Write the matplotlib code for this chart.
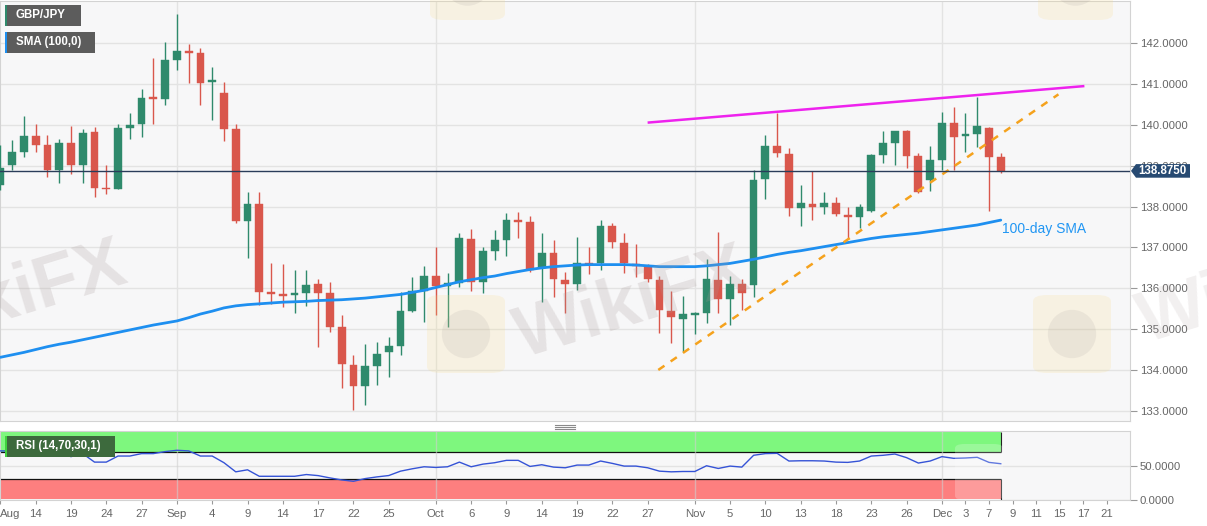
import matplotlib
matplotlib.use("Agg")
import matplotlib.pyplot as plt
from matplotlib.patches import Polygon, Rectangle, FancyBboxPatch, Ellipse
from matplotlib.lines import Line2D

plt.rcParams['font.family'] = ['Liberation Sans', 'DejaVu Sans']

# ---------------- data (GBP/JPY daily, 11 Aug - 8 Dec) ----------------
opens = [138.53, 139.02, 139.35, 139.73, 139.51, 138.90, 139.55, 139.02, 139.83, 138.46,
         138.44, 139.92, 140.02, 140.67, 140.64, 141.59, 141.81, 141.77, 141.05, 140.78,
         139.90, 137.65, 138.06, 135.89, 135.84, 135.84, 135.88, 136.10, 135.89, 135.04,
         134.12, 133.61, 134.10, 134.45, 134.59, 135.45, 135.93, 136.30, 136.06, 136.14,
         137.21, 136.16, 136.91, 137.18, 137.67, 137.63, 136.49, 136.86, 136.20, 136.10,
         136.62, 136.63, 137.53, 137.12, 136.59, 136.53, 136.20, 135.44, 135.24, 135.36,
         135.39, 136.20, 135.75, 136.10, 136.08, 138.67, 139.48, 139.30, 137.96, 138.06,
         138.00, 138.08, 137.79, 137.75, 137.90, 139.26, 139.57, 139.84, 139.25, 138.65,
         139.14, 140.04, 139.73, 139.78, 139.92, 139.22]
highs = [139.51, 139.63, 140.22, 140.02, 139.75, 139.65, 139.97, 139.89, 139.94, 139.02,
         140.02, 140.30, 140.87, 141.63, 142.04, 142.71, 141.98, 141.88, 141.43, 141.06,
         140.02, 138.37, 138.37, 136.61, 136.59, 136.45, 136.46, 136.22, 136.16, 135.34,
         134.36, 134.63, 134.69, 134.81, 135.92, 136.27, 136.55, 137.02, 136.38, 137.35,
         137.44, 137.00, 137.43, 137.84, 137.86, 137.77, 137.35, 137.18, 136.41, 137.25,
         137.02, 137.67, 137.59, 137.35, 137.08, 136.59, 136.30, 135.93, 135.81, 135.43,
         136.71, 137.39, 136.30, 136.22, 138.90, 139.75, 140.30, 139.44, 138.53, 138.88,
         138.37, 138.23, 138.00, 138.06, 139.29, 139.85, 139.86, 139.88, 139.31, 139.48,
         140.31, 140.45, 140.29, 140.69, 139.96, 139.31]
lows = [138.41, 138.90, 139.22, 139.35, 138.73, 138.59, 138.79, 138.57, 138.24, 138.31,
        138.43, 139.65, 139.70, 140.02, 140.49, 141.35, 141.02, 140.48, 140.12, 139.61,
        137.61, 136.73, 135.59, 135.61, 135.55, 135.40, 135.57, 134.57, 134.94, 133.56,
        133.03, 133.14, 133.63, 133.83, 134.36, 135.43, 135.18, 135.34, 135.06, 136.04,
        135.94, 135.89, 136.69, 136.79, 137.22, 136.41, 135.67, 135.79, 135.40, 135.96,
        136.35, 136.46, 136.98, 136.37, 136.28, 136.16, 134.90, 134.65, 134.43, 134.88,
        135.16, 135.39, 135.10, 135.47, 135.79, 138.19, 139.22, 137.77, 137.53, 137.67,
        137.81, 137.77, 137.20, 137.47, 137.88, 139.08, 139.02, 138.94, 138.34, 138.38,
        138.90, 138.90, 139.35, 139.47, 137.90, 138.82]
closes = [138.94, 139.35, 139.73, 139.51, 138.90, 139.55, 139.02, 139.81, 138.46, 138.43,
          139.92, 140.00, 140.67, 140.64, 141.59, 141.81, 141.78, 141.04, 141.09, 139.90,
          137.65, 138.06, 135.92, 135.86, 135.82, 135.89, 136.08, 135.89, 135.06, 134.14,
          133.61, 134.10, 134.38, 134.59, 135.45, 135.93, 136.30, 136.06, 136.14, 137.22,
          136.16, 136.91, 137.18, 137.67, 137.64, 136.46, 136.86, 136.22, 136.10, 136.63,
          136.59, 137.53, 137.14, 136.61, 136.55, 136.22, 135.47, 135.30, 135.36, 135.39,
          136.22, 135.75, 136.10, 135.89, 138.65, 139.48, 139.32, 137.96, 138.08, 138.00,
          138.10, 137.81, 137.75, 138.00, 139.26, 139.55, 139.84, 139.25, 138.37, 139.14,
          140.04, 139.70, 139.76, 139.97, 139.22, 138.875]
sma100 = [134.31, 134.37, 134.43, 134.50, 134.57, 134.63, 134.68, 134.74, 134.80, 134.86,
          134.92, 134.98, 135.04, 135.10, 135.15, 135.20, 135.28, 135.37, 135.44, 135.52,
          135.57, 135.60, 135.62, 135.64, 135.66, 135.67, 135.68, 135.70, 135.71, 135.72,
          135.74, 135.76, 135.79, 135.82, 135.85, 135.90, 135.95, 136.02, 136.09, 136.16,
          136.21, 136.26, 136.30, 136.36, 136.41, 136.46, 136.50, 136.53, 136.55, 136.57,
          136.58, 136.58, 136.58, 136.58, 136.57, 136.55, 136.53, 136.53, 136.53, 136.53,
          136.55, 136.58, 136.61, 136.66, 136.71, 136.77, 136.83, 136.88, 136.92, 136.97,
          137.02, 137.07, 137.12, 137.17, 137.22, 137.26, 137.29, 137.32, 137.35, 137.39,
          137.43, 137.47, 137.51, 137.55, 137.61, 137.67]
rsi = [72, 72, 73, 71, 67, 69.5, 63.5, 68, 55.4, 55.4,
       64.4, 64.4, 68, 68, 71, 72.9, 72, 64.4, 64.4, 54.5,
       41, 44, 34.4, 34.4, 34.4, 34.4, 37, 35.4, 32, 29,
       27, 31, 33.5, 35.5, 42, 45.5, 48.5, 47.5, 48.5, 55.4,
       48.5, 52.4, 54.5, 58, 58, 49, 51.5, 48, 47, 51,
       51, 57, 53.5, 49.5, 49.5, 47, 42, 41, 41.5, 41.5,
       50, 46, 49.5, 48, 65.5, 68, 68.4, 57, 57.4, 57.4,
       57, 55.4, 55, 57, 64.4, 65.5, 67.4, 62, 54, 57,
       63.5, 61, 61.5, 62.5, 55, 53]

tick_pos = [0, 3, 6, 9, 12, 15, 18, 21, 24, 27, 30, 33, 37, 40, 43, 46, 49, 52, 55,
            59, 62, 65, 68, 71, 74, 77, 80, 82, 84, 86, 88, 90, 92, 94]
tick_labels = ['Aug', '14', '19', '24', '27', 'Sep', '4', '9', '14', '17', '22', '25',
               'Oct', '6', '9', '14', '19', '22', '27', 'Nov', '5', '10', '13', '18',
               '23', '26', 'Dec', '3', '7', '9', '11', '15', '17', '21']
month_starts = [15, 37, 59, 80]
price_ticks = [133, 134, 135, 136, 137, 138, 139, 140, 141, 142]
resist_x, resist_y = [55.1, 92.0], [140.06, 140.95]
support_x, support_y = [55.9, 89.9], [134.00, 140.75]

# ---------------- layout ----------------
W, H = 1207, 526
fig = plt.figure(figsize=(W / 100, H / 100), dpi=100)
fig.patch.set_facecolor('white')

def fx(px):
    return px / W

def fy(py):
    return 1 - py / H

ax = fig.add_axes([0, fy(421), fx(1130), (421 - 1) / H])
axr = fig.add_axes([0, fy(499.5), fx(1130), (499.5 - 431) / H])

XL, XR = -0.03, 95.98
BG = '#f7f7f8'
GRID = '#e3e3e3'
GREEN = '#2f8a6c'
RED = '#d9574c'
TXT = '#666666'

for a in (ax, axr):
    a.set_facecolor(BG)
    a.set_xlim(XL, XR)
    for s in a.spines.values():
        s.set_color('#d3d3d3')
        s.set_linewidth(0.8)

# ---------------- main price panel ----------------
ax.set_ylim(132.75, 143.036)
ax.set_yticks(price_ticks)
ax.set_yticklabels(['%.4f' % v for v in price_ticks])
ax.yaxis.tick_right()
ax.tick_params(axis='y', length=5, color='#999999', labelcolor=TXT, labelsize=8.2, pad=2)
ax.tick_params(axis='x', bottom=False, labelbottom=False)
ax.grid(axis='y', color=GRID, lw=1, zorder=0)
ax.set_axisbelow(True)
for m in month_starts:
    ax.axvline(m, color=GRID, lw=1, zorder=0.5)

n = len(closes)
xs = list(range(n))
for i in xs:
    o, h, l, c = opens[i], highs[i], lows[i], closes[i]
    col = GREEN if c >= o else RED
    ax.vlines(i, l, h, color=col, lw=1.0, zorder=3)
    bot = min(o, c)
    ht = max(abs(c - o), 0.045)
    if abs(c - o) < 0.045:
        bot = (o + c) / 2 - 0.0225
    ax.bar(i, ht, bottom=bot, width=0.66, color=col, edgecolor=col, lw=0.3, zorder=3)

ax.plot(xs, sma100, color='#1e8ff0', lw=2.0, zorder=4, solid_capstyle='round')
ax.plot(resist_x, resist_y, color='#ee22ee', lw=1.8, zorder=4)
ax.plot(support_x, support_y, color='#f5a21d', lw=1.8, ls=(0, (3, 3)), zorder=4)
ax.axhline(closes[-1], color='#2a3d5a', lw=1.0, zorder=5)
ax.text(xs[-1] + 0.1, sma100[-1] - 0.22, '100-day SMA', color='#2196f3',
        fontsize=10, ha='left', va='center', zorder=6)

# ---------------- RSI panel ----------------
axr.set_ylim(0, 101.5)
axr.set_yticks([0, 50])
axr.set_yticklabels(['0.0000', '50.0000'])
axr.yaxis.tick_right()
axr.tick_params(axis='y', length=5, color='#999999', labelcolor=TXT, labelsize=8.2, pad=2)
axr.set_xticks(tick_pos)
axr.set_xticklabels(tick_labels)
axr.get_xticklabels()[0].set_horizontalalignment('left')
axr.tick_params(axis='x', length=3, color='#999999', labelcolor=TXT, labelsize=8.2, pad=4)
axr.grid(axis='y', color=GRID, lw=1)
axr.set_axisbelow(True)
axr.fill_between([XL, xs[-1]], 70, 100, color='#7ef77e', lw=0, zorder=1)
axr.fill_between([XL, xs[-1]], 0, 30, color='#fd7f7f', lw=0, zorder=1)
axr.hlines([70, 30], XL, xs[-1], color='#111111', lw=0.9, zorder=2)
axr.vlines(xs[-1], 70, 100, color='#222222', lw=0.8, zorder=2)
axr.vlines(xs[-1], 0, 30, color='#222222', lw=0.8, zorder=2)
for m in month_starts:
    axr.axvline(m, color='#cfcfcf', lw=1, alpha=0.6, zorder=2.5)
axr.plot(xs, rsi, color='#3553d6', lw=1.0, zorder=3)

# ---------------- watermarks ----------------
ax.text(0.8, 135.75, 'WikiFX', fontsize=52, fontweight='bold', color='#a89a9a',
        alpha=0.22, rotation=17, ha='center', va='center', zorder=20, clip_on=True)
fig.text(fx(632), fy(305), 'WikiFX', fontsize=52, fontweight='bold', color='#a89a9a',
         alpha=0.22, rotation=17, ha='center', va='center', zorder=20)
fig.text(fx(1130), fy(312), 'Wi', fontsize=52, fontweight='bold', color='#a89a9a',
         alpha=0.15, rotation=17, ha='left', va='center', zorder=1)
for (lx, ly, sz) in [(427, 295, 78), (1033, 295, 78), (430, -55, 75), (1038, -55, 75)]:
    fig.add_artist(FancyBboxPatch((fx(lx), fy(ly + sz)), sz / W, sz / H,
                                  boxstyle='round,pad=0,rounding_size=0.012',
                                  transform=fig.transFigure, facecolor='#f7dc8a',
                                  edgecolor='none', alpha=0.2, zorder=19))
    fig.add_artist(Ellipse((fx(lx + sz / 2), fy(ly + sz / 2)), 0.62 * sz / W, 0.62 * sz / H,
                           transform=fig.transFigure, facecolor='#9a9090',
                           edgecolor='none', alpha=0.13, zorder=19))
fig.add_artist(FancyBboxPatch((fx(955), fy(500)), 48 / W, 56 / H,
                              boxstyle='round,pad=0,rounding_size=0.008',
                              transform=fig.transFigure, facecolor='white',
                              edgecolor='none', alpha=0.22, zorder=19))

# ---------------- legend boxes ----------------
def label_box(x0, y0, w, h, fill, stripe, text):
    fig.add_artist(Rectangle((fx(x0), fy(y0 + h)), w / W, h / H, transform=fig.transFigure,
                             facecolor=fill, edgecolor='none', zorder=21))
    fig.add_artist(Rectangle((fx(x0), fy(y0 + h)), 2.2 / W, h / H, transform=fig.transFigure,
                             facecolor=stripe, edgecolor='none', zorder=22))
    fig.text(fx(x0 + 11), fy(y0 + h / 2), text, color='white', fontsize=8.3,
             fontweight='bold', ha='left', va='center', zorder=23)

label_box(5, 5, 76, 21, '#5c5c5c', GREEN, 'GBP/JPY')
label_box(5, 32, 90, 21, '#5c5c5c', '#1e8ff0', 'SMA (100,0)')
label_box(5, 436, 110, 21, '#3d6a3d', '#3fd23f', 'RSI (14,70,30,1)')

# panel drag handle
for dy in (-2, 0, 2):
    fig.add_artist(Line2D([fx(555), fx(575)], [fy(427 + dy)] * 2, transform=fig.transFigure,
                          color='#8a8a8a', lw=0.8))

# ---------------- last-price tag ----------------
y_disp = ax.transData.transform((0, closes[-1]))[1]
yc = H - y_disp
tag = [(1131, yc), (1136, yc - 6.8), (1190, yc - 6.8), (1190, yc + 6.8), (1136, yc + 6.8)]
fig.add_artist(Polygon([(fx(px), fy(py)) for px, py in tag], closed=True,
                       transform=fig.transFigure, facecolor='#274a72',
                       edgecolor='none', zorder=24))
fig.text(fx(1162), fy(yc), '%.4f' % closes[-1], color='white', fontsize=8.3,
         fontweight='bold', ha='center', va='center', zorder=25)

fig.savefig('out.png', dpi=100)
